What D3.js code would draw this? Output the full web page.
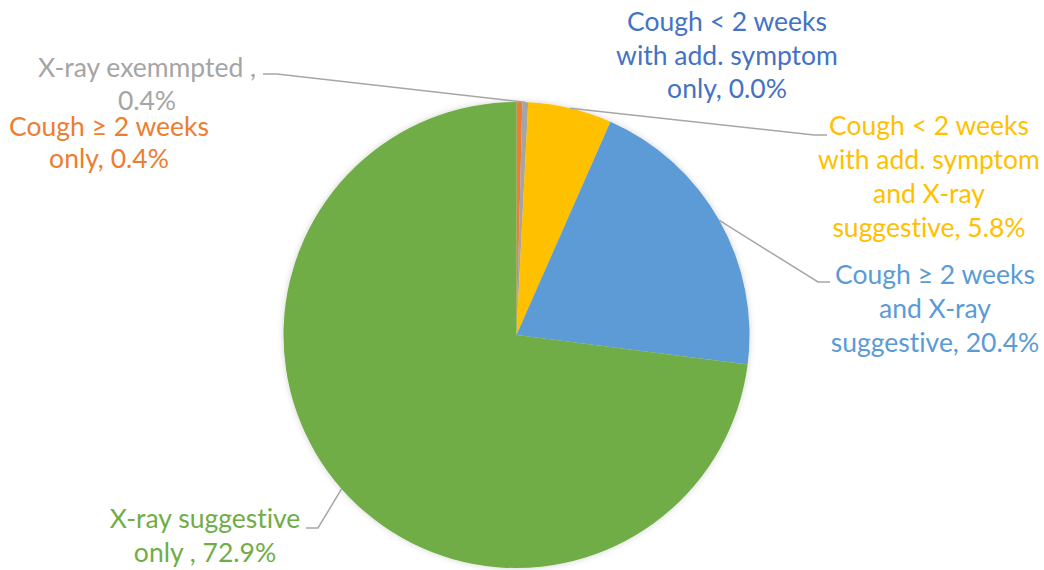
<!DOCTYPE html>
<html>
<head>
<meta charset="utf-8">
<script src="https://cdn.jsdelivr.net/npm/d3@7"></script>
<style>
  html, body { margin: 0; padding: 0; background: #fff; }
  svg { display: block; }
  text { font-family: "Lato", "Open Sans", sans-serif; font-variant-ligatures: none; }
</style>
</head>
<body>
<svg id="chart" width="1044" height="570"></svg>
<script>
// Share of presumptive cases by screening pathway
const categories = [
  "Cough < 2 weeks with add. symptom only",
  "Cough \u2265 2 weeks only",
  "X-ray exemmpted",
  "Cough < 2 weeks with add. symptom and X-ray suggestive",
  "Cough \u2265 2 weeks and X-ray suggestive",
  "X-ray suggestive only"
];
const values = [0.0, 0.4, 0.4, 5.8, 20.4, 72.9];
const colors = ["#4472C4", "#ED7D31", "#A5A5A5", "#FFC000", "#5B9BD5", "#70AD47"];

// Data label text, one array of lines per category
const labelLines = [
  ["Cough < 2 weeks", "with add. symptom", "only, 0.0%"],
  ["Cough \u2265 2 weeks", "only, 0.4%"],
  ["X-ray exemmpted ,", "0.4%"],
  ["Cough < 2 weeks", "with add. symptom", "and X-ray", "suggestive, 5.8%"],
  ["Cough \u2265 2 weeks", "and X-ray", "suggestive, 20.4%"],
  ["X-ray suggestive", "only , 72.9%"]
];

// Layout of the pie and the manually placed data labels
const layout = {
  cx: 516.5, cy: 335, r: 233,
  fontSize: 26.5
};
// x = centre of the label block, y = baseline of first line,
// elbow/end = leader line bend and end (null when no leader)
const labelPlacement = [
  { x: 727, y: 31,  lh: 33.5, elbow: null },
  { x: 109, y: 136, lh: 31.5, elbow: null },
  { x: 147, y: 77,  lh: 33,   elbow: [277, 74],  end: [263, 74] },
  { x: 929, y: 135, lh: 34,   elbow: [814, 135], end: [827, 135] },
  { x: 935, y: 284, lh: 34,   elbow: [818, 282], end: [830, 282] },
  { x: 205, y: 528, lh: 33.5, elbow: [318, 528], end: [306, 528] }
];

const svg = d3.select("#chart");

const defs = svg.append("defs");
const shadow = defs.append("filter").attr("id", "soft")
  .attr("x", "-10%").attr("y", "-10%").attr("width", "120%").attr("height", "120%");
shadow.append("feDropShadow")
  .attr("dx", 0).attr("dy", 0).attr("stdDeviation", 3)
  .attr("flood-color", "#000").attr("flood-opacity", 0.18);

const pie = d3.pie().sort(null).value(d => d).startAngle(0).endAngle(2 * Math.PI);
const arcs = pie(values);

const arc = d3.arc().innerRadius(0).outerRadius(layout.r);
const edge = d3.arc().innerRadius(layout.r).outerRadius(layout.r);

const g = svg.append("g").attr("transform", `translate(${layout.cx},${layout.cy})`);

g.append("g").attr("filter", "url(#soft)")
  .selectAll("path")
  .data(arcs)
  .join("path")
  .attr("d", arc)
  .attr("fill", (d, i) => colors[i]);

// Leader lines from the slice edge to the label
const leaders = svg.append("g")
  .attr("fill", "none")
  .attr("stroke", "#A6A6A6")
  .attr("stroke-width", 1.5);

arcs.forEach((d, i) => {
  const p = labelPlacement[i];
  if (!p.elbow) return;
  const [ex, ey] = edge.centroid(d);
  const pts = [[layout.cx + ex, layout.cy + ey], p.elbow, p.end];
  leaders.append("path").attr("d", d3.line()(pts));
});

// Data labels
const labels = svg.append("g")
  .attr("font-size", layout.fontSize)
  .attr("text-anchor", "middle");

labelLines.forEach((lines, i) => {
  const p = labelPlacement[i];
  const t = labels.append("text")
    .attr("fill", colors[i])
    .attr("x", p.x)
    .attr("y", p.y);
  lines.forEach((line, k) => {
    t.append("tspan")
      .attr("x", p.x)
      .attr("dy", k === 0 ? 0 : p.lh)
      .text(line);
  });
});
</script>
</body>
</html>
